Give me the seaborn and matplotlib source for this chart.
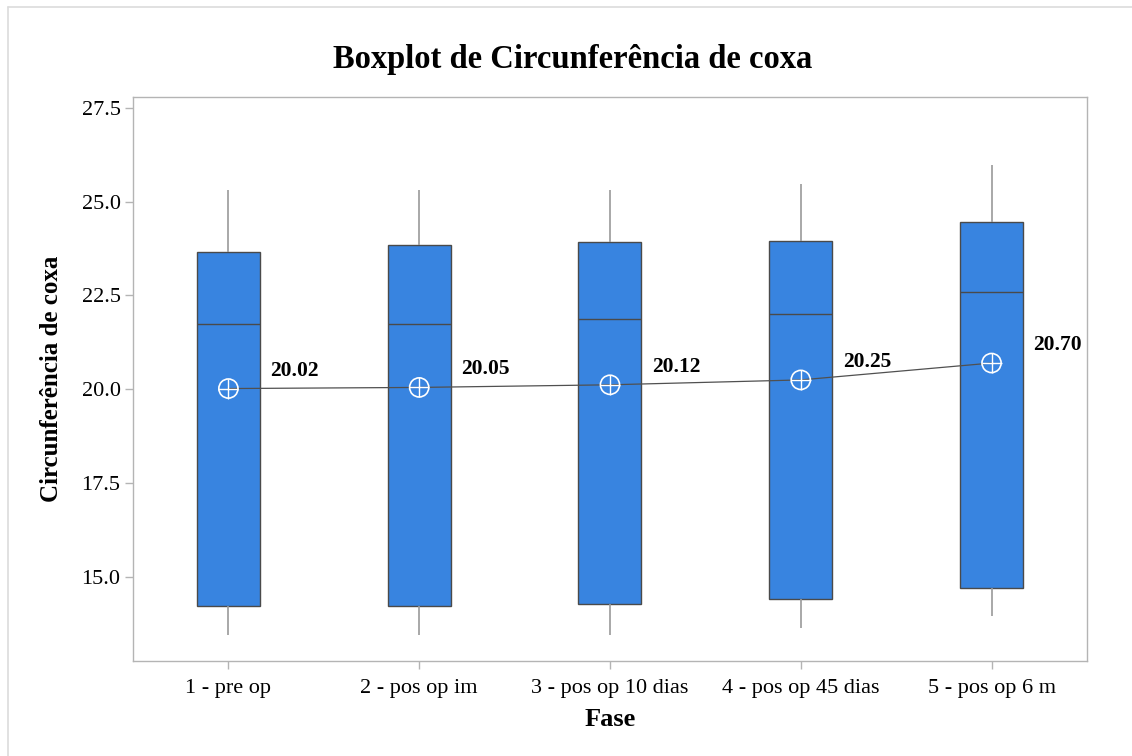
import numpy as np
import pandas as pd
import matplotlib
matplotlib.use("Agg")
import matplotlib.pyplot as plt
from matplotlib.lines import Line2D
import seaborn as sns

# Five-number summaries per phase
fases = ["1 - pre op", "2 - pos op im", "3 - pos op 10 dias",
         "4 - pos op 45 dias", "5 - pos op 6 m"]
minimo = [13.45, 13.45, 13.45, 13.64, 13.96]
q1 = [14.22, 14.22, 14.28, 14.41, 14.71]
mediana = [21.75, 21.75, 21.88, 22.00, 22.58]
q3 = [23.67, 23.85, 23.93, 23.96, 24.47]
maximo = [25.30, 25.30, 25.30, 25.48, 25.99]
medias = [20.02, 20.05, 20.12, 20.25, 20.70]

yticks = [15.0, 17.5, 20.0, 22.5, 25.0, 27.5]

# Long table: each group's five points reproduce its quartiles exactly
rows = []
for f, a, b, c, d, e in zip(fases, minimo, q1, mediana, q3, maximo):
    for v in (a, b, c, d, e):
        rows.append({"Fase": f, "valor": v})
df = pd.DataFrame(rows)

sns.set_theme(style="white")
plt.rcParams["font.family"] = ["Liberation Serif", "DejaVu Serif"]
plt.rcParams["text.color"] = "black"
plt.rcParams["axes.labelcolor"] = "black"

fig = plt.figure(figsize=(11.32, 7.56), dpi=100)
ax = fig.add_axes([0.1175, 0.1257, 0.8427, 0.746])

box_fill = "#3884E0"
edge = "#4a4a4a"
whisk = "#9a9a9a"

sns.boxplot(data=df, x="Fase", y="valor", order=fases, ax=ax,
            color=box_fill, saturation=1, width=0.33, whis=(0, 100),
            showcaps=False, showfliers=False,
            boxprops=dict(edgecolor=edge, linewidth=1.0),
            medianprops=dict(color=edge, linewidth=1.0),
            whiskerprops=dict(color=whisk, linewidth=1.2))

pos = np.arange(len(fases))
# Mean connect line
sns.lineplot(x=pos, y=medias, ax=ax, color="#505050", linewidth=0.9,
             zorder=4)
# Mean symbols: circle with cross
ax.scatter(pos, medias, s=190, facecolors="none", edgecolors="white",
           linewidths=1.2, zorder=5)
ax.scatter(pos, medias, s=190, marker="+", color="white",
           linewidths=1.0, zorder=5)

for p, m in zip(pos, medias):
    ax.text(p + 0.22, m + 0.48, f"{m:.2f}", ha="left", va="center",
            fontsize=15.5, fontweight="bold", color="black", zorder=6)

ax.set_xlim(-0.5, len(fases) - 0.5)
ax.set_ylim(12.76, 27.79)
ax.set_yticks(yticks)
ax.set_yticklabels([f"{t:.1f}" for t in yticks])

for s in ax.spines.values():
    s.set_color("#b4b4b4")
    s.set_linewidth(1.0)
ax.tick_params(axis="both", which="major", direction="out", length=6,
               width=1.0, color="#b4b4b4", labelsize=16, labelcolor="black",
               bottom=True, left=True)
ax.tick_params(axis="x", pad=7)
ax.tick_params(axis="y", pad=3)

ax.set_xlabel("Fase", fontsize=19, fontweight="bold", labelpad=7,
              color="black")
ax.set_ylabel("Circunferência de coxa", fontsize=18, fontweight="bold",
              color="black")
ax.yaxis.set_label_coords(-0.073, 0.5)

fig.text(0.506, 0.921, "Boxplot de Circunferência de coxa", ha="center",
         va="center", fontsize=23.5, fontweight="bold", color="black")

# Light outer frame (left and top edges)
fig.add_artist(Line2D([8 / 1132, 8 / 1132], [0, 1 - 7 / 756],
                      transform=fig.transFigure, color="#dcdcdc", lw=1.2))
fig.add_artist(Line2D([8 / 1132, 1], [1 - 7 / 756, 1 - 7 / 756],
                      transform=fig.transFigure, color="#dcdcdc", lw=1.2))

fig.savefig("out.png", dpi=100, facecolor="white")
